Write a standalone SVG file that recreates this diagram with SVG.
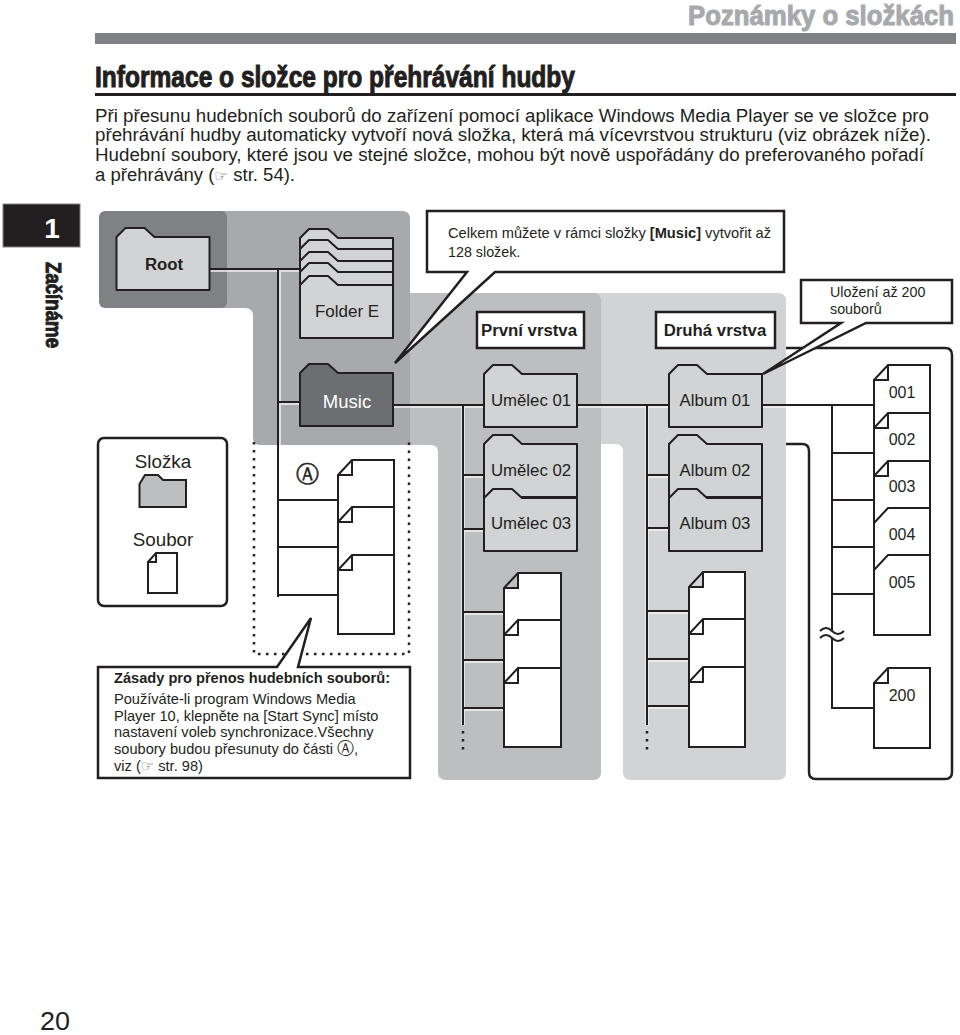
<svg xmlns="http://www.w3.org/2000/svg" width="960" height="1035" viewBox="0 0 960 1035">
<style>
text{font-family:"Liberation Sans",Arial,"DejaVu Sans",sans-serif;fill:#231f20}
.sym{font-family:"DejaVu Sans",sans-serif;fill:#58595b;font-size:15px}
.hd{font-weight:bold;stroke:#231f20;stroke-width:1}
.body{font-size:18px}
.f{stroke:#231f20;stroke-width:2;stroke-linejoin:round}
.lg{fill:#d1d3d4}
.dk{fill:#6d6e71}
.file{fill:#fff;stroke:#231f20;stroke-width:2;stroke-linejoin:miter}
.box{fill:#fff;stroke:#231f20;stroke-width:2.5;stroke-linejoin:miter}
.ln{fill:none;stroke:#231f20;stroke-width:2}
.halo{fill:none;stroke:#f1f2f2;stroke-width:4;opacity:.75}
.dot{fill:none;stroke:#231f20;stroke-width:2.5;stroke-dasharray:2.5 5.5}
.c{text-anchor:middle}
.n{font-size:16.8px}
.num{font-size:16px}
.t14{font-size:14.3px}
.note{font-size:14.6px}
.b{font-weight:bold}
</style>
<defs>
<path id="folder" d="M0,9 L9,0 H28 L38,9 H93 V62 H0 Z"/>
</defs>

<g id="page-header">
<text x="688" y="25" font-size="27" textLength="266" lengthAdjust="spacingAndGlyphs" style="fill:#a7a9ac;stroke:#a7a9ac;stroke-width:1;font-weight:bold">Poznámky o složkách</text>
<rect x="95" y="33" width="861" height="11" fill="#808184"/>
<text class="hd" x="95" y="87" font-size="29" textLength="480" lengthAdjust="spacingAndGlyphs">Informace o složce pro přehrávání hudby</text>
<rect x="95" y="93" width="861" height="3" fill="#231f20"/>
<text class="body" x="95" y="122" textLength="834" lengthAdjust="spacingAndGlyphs">Při přesunu hudebních souborů do zařízení pomocí aplikace Windows Media Player se ve složce pro</text>
<text class="body" x="95" y="141" textLength="836" lengthAdjust="spacingAndGlyphs">přehrávání hudby automaticky vytvoří nová složka, která má vícevrstvou strukturu (viz obrázek níže).</text>
<text class="body" x="95" y="161" textLength="829" lengthAdjust="spacingAndGlyphs">Hudební soubory, které jsou ve stejné složce, mohou být nově uspořádány do preferovaného pořadí</text>
<text class="body" x="95" y="181" textLength="200" lengthAdjust="spacingAndGlyphs">a přehrávány (<tspan class="sym">☞</tspan> str. 54).</text>
</g>

<g id="chapter-tab">
<rect x="3" y="204" width="77" height="43" fill="#231f20" stroke="#808184" stroke-width="1"/>
<text x="52" y="238" text-anchor="middle" font-size="28" font-weight="bold" style="fill:#fff">1</text>
<text transform="translate(46,262) rotate(90)" font-size="22" font-weight="bold" textLength="86" lengthAdjust="spacingAndGlyphs" style="stroke:#231f20;stroke-width:1">Začínáme</text>
</g>
<text id="page-number" x="40" y="1030" font-size="25" textLength="30" lengthAdjust="spacingAndGlyphs">20</text>

<g id="backgrounds">
<path id="bg-files" d="M785,348 H945 Q952,348 952,355 V772 Q952,779 945,779 H816 Q809,779 809,772 V451 Q809,444 802,444 H785" fill="#fff" stroke="#231f20" stroke-width="2.5"/>
<path id="bg-layer2" d="M600,293 H778 Q786,293 786,301 V772 Q786,780 778,780 H631 Q623,780 623,772 V452 Q623,444 615,444 H590 V293 Z" fill="#d1d3d4"/>
<path id="bg-layer1" d="M400,293 H593 Q601,293 601,301 V772 Q601,780 593,780 H446 Q438,780 438,772 V452 Q438,445 431,445 H400 Z" fill="#bcbec0"/>
<path id="bg-mid" d="M215,211 H402 Q410,211 410,219 V445 H261 Q253,445 253,437 V316 Q253,308 245,308 H215 Z" fill="#a7a9ac"/>
<rect id="bg-root" x="99" y="211" width="128" height="97" rx="6" fill="#808184"/>
</g>
<path id="region-a" class="dot" d="M254,442 V654 H409 V442"/>

<g id="connectors">
<path class="halo" d="M209,270 H300 M279,270 V445 M279,403 H300 M393,406 H484 M463,406 V725 M463,476 H484 M463,530 H484 M463,613 H504 M463,661 H504 M463,709 H504 M577,406 H669 M647,406 V725 M647,476 H669 M647,529 H669 M647,612 H689 M647,660 H689 M647,707 H689 M762,406 H786"/>
<path class="ln" d="M209,269 H300 M278,269 V597 M278,402 H300 M278,500 H338 M278,547 H338 M278,595 H338"/>
<path class="ln" d="M393,405 H484 M463,405 V725 M463,475 H484 M463,529 H484 M463,612 H504 M463,660 H504 M463,708 H504"/>
<path class="ln" d="M577,405 H669 M647,405 V725 M647,475 H669 M647,528 H669 M647,611 H689 M647,659 H689 M647,706 H689"/>
<path class="ln" d="M762,405 H874 M832,405 V708 H874 M832,453 H874 M832,500 H874 M832,547 H874 M832,594 H874"/>
<path class="dot" d="M463,731 V752 M647,731 V752"/>
<path fill="none" stroke="#fff" stroke-width="5" d="M821,634 q5.500,-6 11,0 t11,0"/>
<path class="ln" d="M820,631 q6,-6 12,0 t12,0 M820,638 q6,-6 12,0 t12,0"/>
</g>

<g id="node-root"><use href="#folder" class="f lg" x="116.500" y="228"/><text class="c b" x="164" y="270" font-size="16.800">Root</text></g>
<g id="node-folder-e">
<use href="#folder" class="f lg" x="300" y="229"/>
<use href="#folder" class="f lg" x="300" y="240"/>
<use href="#folder" class="f lg" x="300" y="252"/>
<use href="#folder" class="f lg" x="300" y="263"/>
<use href="#folder" class="f lg" x="300" y="276"/>
<text class="c" x="347" y="317" font-size="17">Folder E</text></g>
<g id="node-music"><use href="#folder" class="f dk" x="300" y="364"/><text class="c" x="347" y="408" font-size="18.500" style="fill:#fff">Music</text></g>
<g id="node-umelec-01"><use href="#folder" class="f lg" x="484" y="365"/><text class="c n" x="531" y="406">Umělec 01</text></g>
<g id="node-umelec-02"><use href="#folder" class="f lg" x="484" y="435"/><text class="c n" x="531" y="476">Umělec 02</text></g>
<g id="node-umelec-03"><use href="#folder" class="f lg" x="484" y="489"/><text class="c n" x="531" y="529">Umělec 03</text></g>
<g id="node-album-01"><use href="#folder" class="f lg" x="669" y="365"/><text class="c n" x="715" y="406">Album 01</text></g>
<g id="node-album-02"><use href="#folder" class="f lg" x="669" y="435"/><text class="c n" x="715" y="476">Album 02</text></g>
<g id="node-album-03"><use href="#folder" class="f lg" x="669" y="489"/><text class="c n" x="715" y="529">Album 03</text></g>

<g id="node-files-root">
<path class="file" d="M338,475 L352,460 H394 V530 H338 Z M338,475 H352 V460"/>
<path class="file" d="M338,522 L352,507 H394 V570 H338 Z M338,522 H352 V507"/>
<path class="file" d="M338,570 L352,555 H394 V634 H338 Z M338,570 H352 V555"/>
</g>
<g id="node-files-layer1">
<path class="file" d="M504,588 L518,573 H561 V640 H504 Z M504,588 H518 V573"/>
<path class="file" d="M504,635 L518,620 H561 V690 H504 Z M504,635 H518 V620"/>
<path class="file" d="M504,683 L518,668 H561 V747 H504 Z M504,683 H518 V668"/>
</g>
<g id="node-files-layer2">
<path class="file" d="M689,587 L703,572 H745 V640 H689 Z M689,587 H703 V572"/>
<path class="file" d="M689,634 L703,619 H745 V690 H689 Z M689,634 H703 V619"/>
<path class="file" d="M689,682 L703,667 H745 V747 H689 Z M689,682 H703 V667"/>
</g>
<g id="node-file-001"><path class="file" d="M874,380 L888,365 H930 V430 H874 Z M874,380 H888 V365"/><text class="c num" x="902" y="398">001</text></g>
<g id="node-file-002"><path class="file" d="M874,428 L888,413 H930 V480 H874 Z M874,428 H888 V413"/><text class="c num" x="902" y="445">002</text></g>
<g id="node-file-003"><path class="file" d="M874,476 L888,461 H930 V530 H874 Z M874,476 H888 V461"/><text class="c num" x="902" y="492">003</text></g>
<g id="node-file-004"><path class="file" d="M874,523 L888,508 H930 V575 H874 Z"/><text class="c num" x="902" y="540">004</text></g>
<g id="node-file-005"><path class="file" d="M874,570 L888,555 H930 V635 H874 Z"/><text class="c num" x="902" y="588">005</text></g>
<g id="node-file-200"><path class="file" d="M874,683 L888,668 H930 V748 H874 Z M874,683 H888 V668"/><text class="c num" x="902" y="701">200</text></g>

<text id="label-a" x="307" y="482" text-anchor="middle" font-size="23" style="font-family:'DejaVu Sans',sans-serif;stroke:#231f20;stroke-width:.5">Ⓐ</text>

<g id="label-layer1"><rect class="box" x="477" y="312" width="107" height="36"/><text class="c b" x="529" y="336" font-size="16.800">První vrstva</text></g>
<g id="label-layer2"><rect class="box" x="656" y="312" width="119" height="36"/><text class="c b" x="715" y="336" font-size="16.800">Druhá vrstva</text></g>

<g id="callout-128">
<path class="box" d="M427,211 H784 V272 H495 L395,363 L467,272 H427 Z"/>
<text class="t14" x="448" y="238" textLength="323" lengthAdjust="spacingAndGlyphs">Celkem můžete v rámci složky <tspan class="b">[Music]</tspan> vytvořit až</text>
<text class="t14" x="448" y="257">128 složek.</text>
</g>
<g id="callout-200">
<path class="box" d="M801,280 H952 V323 H866 L763,374 L841,323 H801 Z"/>
<text class="t14" x="830" y="297">Uložení až 200</text>
<text class="t14" x="830" y="314">souborů</text>
</g>

<g id="node-legend">
<rect x="98" y="438" width="129" height="168" rx="6" fill="#fff" stroke="#231f20" stroke-width="2.500"/>
<text class="c" x="163" y="468" font-size="18.800">Složka</text>
<path d="M139.500,484 L145,475 H158 L163,480 H186 V507 H139.500 Z" fill="#bcbec0" stroke="#231f20" stroke-width="2"/>
<text class="c" x="163" y="546" font-size="18.800">Soubor</text>
<path class="file" d="M148,562 L156,553 H177 V593 H148 Z M148,562 H156 V553"/>
</g>

<g id="callout-rules">
<path class="box" d="M98,667 H277 L311,618 L298,667 H410 V778 H98 Z"/>
<text class="b" x="114" y="683" font-size="14.400" textLength="276" lengthAdjust="spacingAndGlyphs">Zásady pro přenos hudebních souborů:</text>
<text class="note" x="114" y="704">Používáte-li program Windows Media</text>
<text class="note" x="114" y="721">Player 10, klepněte na [Start Sync] místo</text>
<text class="note" x="114" y="737">nastavení voleb synchronizace.Všechny</text>
<text class="note" x="114" y="754">soubory budou přesunuty do části <tspan font-size="17" style="font-family:'DejaVu Sans',sans-serif">Ⓐ</tspan>,</text>
<text class="note" x="114" y="771">viz (<tspan class="sym" style="font-size:15px">☞</tspan> str. 98)</text>
</g>
</svg>
